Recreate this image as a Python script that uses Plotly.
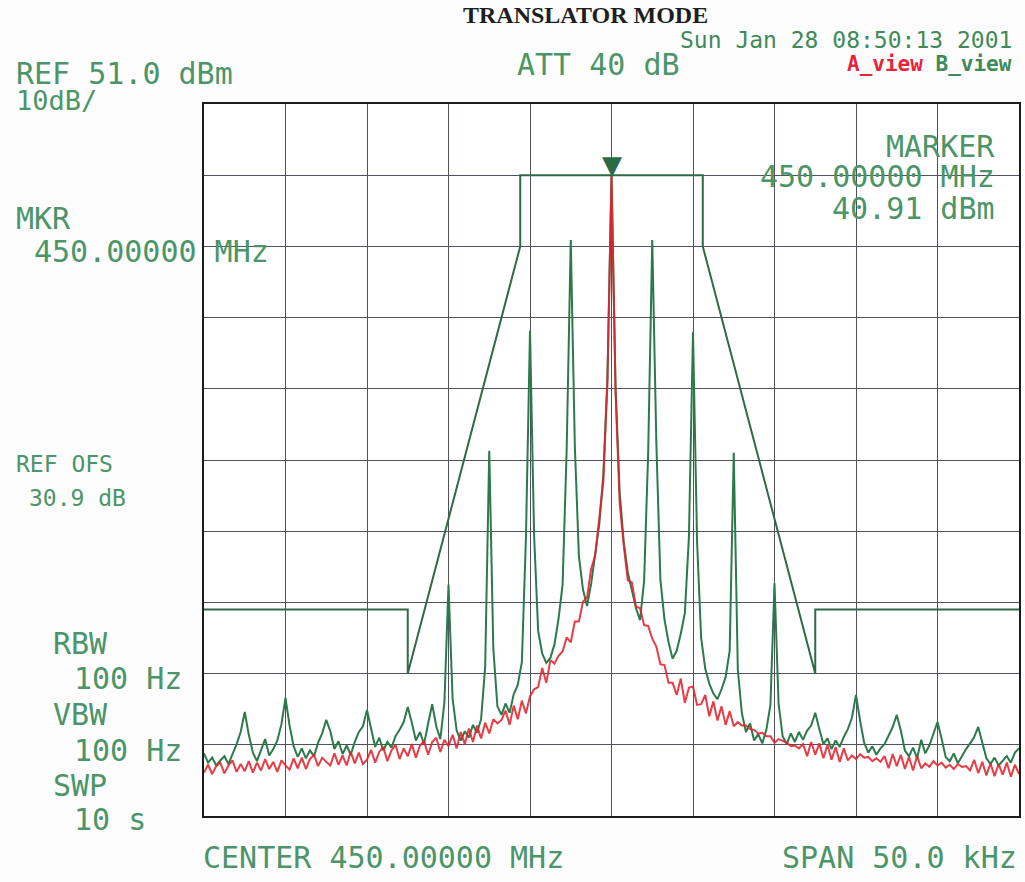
import numpy as np
import plotly.graph_objects as go

# ---------------- data ----------------
# analyzer sweep points: -25 .. +25 kHz offset from 450.00000 MHz, 0.25 kHz step
freq_khz = np.linspace(-25, 25, 201)

# A_view (red trace), dBm
a_view_dbm = [
    -42.9, -41.8, -43.1, -42.0, -41.5, -43.0, -41.9, -41.2, -42.8, -41.7,
    -42.7, -41.3, -42.9, -41.5, -42.6, -41.0, -42.4, -41.4, -42.8, -41.2,
    -41.9, -42.5, -40.9, -42.3, -40.8, -42.4, -41.0, -40.4, -42.0, -40.8,
    -41.4, -41.9, -40.2, -41.8, -40.5, -41.9, -40.0, -41.6, -40.1, -41.7,
    -41.1, -39.7, -41.5, -40.0, -39.3, -41.3, -39.8, -39.0, -41.0, -39.5,
    -40.6, -38.9, -40.8, -39.1, -38.5, -40.4, -38.6, -38.0, -40.0, -38.3,
    -39.2, -37.6, -39.5, -37.2, -38.9, -36.7, -38.6, -36.3, -38.1, -35.9,
    -37.4, -35.4, -36.0, -35.5, -34.2, -36.2, -33.5, -35.4, -32.8, -34.6,
    -32.2, -31.2, -30.9, -28.2, -30.3, -27.1, -27.6, -26.5, -25.9, -23.9,
    -24.6, -21.7, -21.7, -18.9, -18.3, -14.3, -12.4, -7.0, -2.0, 12.0,
    40.9,
    10.5, -5.0, -11.0, -15.9, -16.2, -19.6, -19.8, -22.2, -22.3, -24.1,
    -25.2, -27.7, -27.8, -30.3, -30.3, -32.0, -29.7, -33.1, -31.0, -30.8,
    -33.4, -33.3, -32.0, -35.0, -32.9, -35.6, -33.6, -36.2, -34.3, -36.4,
    -35.8, -36.3, -36.3, -36.8, -36.9, -37.4, -37.3, -37.8, -37.8, -38.7,
    -38.2, -38.5, -38.7, -39.2, -39.1, -39.5, -38.9, -40.6, -38.6, -40.4,
    -38.8, -40.9, -39.0, -41.1, -39.3, -41.4, -39.5, -41.2, -40.5, -41.0,
    -40.3, -40.8, -40.7, -41.3, -40.9, -41.4, -40.6, -42.3, -40.3, -42.0,
    -40.4, -42.4, -40.7, -42.6, -40.6, -42.3, -41.6, -42.1, -41.3, -41.9,
    -41.5, -42.2, -41.8, -42.4, -41.7, -42.1, -42.0, -42.6, -41.1, -43.0,
    -41.4, -43.3, -41.6, -43.4, -41.7, -43.2, -41.5, -43.5, -41.8, -43.1,
]

# B_view (green trace, translator output with intermod products), dBm
b_view_dbm = [
    -40.2, -41.5, -40.8, -41.9, -41.2, -40.6, -41.7, -40.4, -38.9, -37.2,
    -34.4, -37.6, -40.1, -41.3, -39.8, -38.2, -40.5, -39.6, -38.4, -36.1,
    -32.4, -36.3, -39.2, -40.7, -39.5, -40.9, -39.8, -40.6, -38.7, -37.4,
    -35.5, -37.1, -39.6, -38.5, -40.3, -39.1, -40.4, -38.6, -37.2, -36.4,
    -34.1, -36.5, -39.3, -38.0, -39.8, -38.6, -39.4, -37.8, -36.9, -35.8,
    -33.7, -35.9, -38.4, -37.2, -38.9, -36.0, -33.3, -36.4, -38.2, -33.0,
    -16.5, -32.5, -37.0, -38.4, -37.1, -38.0, -36.2, -37.3, -35.4, -28.0,
    2.3, -25.5, -33.6, -34.8, -33.2, -34.5, -31.9, -30.6, -27.4, -10.0,
    19.2, -9.5, -23.0, -26.2, -27.5, -26.8, -24.9, -21.3, -16.5, 2.5,
    31.9, 3.0, -12.5, -17.2, -19.5, -16.4, -12.0, -8.0, -1.0, 12.5,
    40.9,
    11.0, -3.5, -10.5, -14.8, -17.5, -19.8, -21.5, -16.0, 2.0, 31.9,
    3.5, -15.8, -21.4, -24.6, -26.9, -25.8, -23.4, -20.5, -9.8, 19.0,
    -10.5, -24.0, -28.3, -30.4, -31.8, -32.6, -31.2, -29.5, -25.8, 2.0,
    -28.5, -34.6, -37.2, -36.0, -38.4, -37.5, -38.8, -36.9, -33.4, -16.3,
    -33.2, -37.8, -38.9, -37.4, -38.6, -37.2, -38.3, -37.0, -36.3, -34.5,
    -36.8, -38.9, -38.1, -39.6, -38.4, -39.3, -37.9, -36.8, -35.2, -32.0,
    -35.6, -38.7, -40.1, -39.2, -40.4, -39.5, -38.9, -37.6, -36.5, -34.8,
    -37.0, -39.8, -40.6, -39.4, -40.9, -38.3, -40.2, -39.1, -37.4, -35.8,
    -38.1, -40.7, -41.3, -40.2, -41.6, -40.5, -39.6, -38.8, -37.9, -36.5,
    -38.6, -40.9, -41.7, -40.8, -41.9, -41.2, -40.6, -41.5, -40.1, -39.5,
]

# limit mask (kHz, dBm)
mask_freq_khz = [-25, -12.5, -12.5, -5.6, -5.6, 5.6, 5.6, 12.5, 12.5, 25]
mask_level_dbm = [-20, -20, -29, 31, 41, 41, 31, -29, -20, -20]

# marker
marker_freq_khz = 0.0
marker_level_dbm = 40.91

# display settings
ref_level = 51.0
db_per_div = 10
n_div = 10
span_khz = 50.0

assert len(a_view_dbm) == len(freq_khz) == len(b_view_dbm)

# ---------------- figure ----------------
W, H = 1025, 882
L, R, T, B = 204, 4, 104, 66
PW, PH = W - L - R, H - T - B

TRACE_GREEN = "#2c7a4b"
TRACE_RED = "#e3232d"
MASK_GREEN = "#2f6a47"
TEXT_GREEN = "#4b9568"
MONO = "DejaVu Sans Mono"

fig = go.Figure()
fig.add_trace(go.Scatter(x=mask_freq_khz, y=mask_level_dbm, mode="lines",
                         line=dict(color=MASK_GREEN, width=2), hoverinfo="skip",
                         showlegend=False))
fig.add_trace(go.Scatter(x=freq_khz, y=b_view_dbm, mode="lines",
                         line=dict(color=TRACE_GREEN, width=2), name="B_view",
                         showlegend=False))
fig.add_trace(go.Scatter(x=freq_khz, y=a_view_dbm, mode="lines",
                         line=dict(color=TRACE_RED, width=2), opacity=0.88,
                         name="A_view", showlegend=False))


def px(x):
    return (x - L) / PW


def py(y):
    return (H - B - y) / PH


def label(text, x, y, size=30, anchor="left", color=TEXT_GREEN, family=MONO):
    fig.add_annotation(text=text, xref="paper", yref="paper", x=px(x), y=py(y),
                       xanchor=anchor, yanchor="middle", showarrow=False,
                       font=dict(family=family, size=size, color=color))


label("<b>TRANSLATOR MODE</b>", 586, 15, size=24, anchor="center",
      color="#1e1e1e", family="Liberation Serif")
label("Sun Jan 28 08:50:13 2001", 1016, 40, size=23, anchor="right", color="#3f8a58")
label("REF 51.0 dBm", 14, 73)
label("10dB/", 14, 100, size=27)
label("ATT 40 dB", 516, 64)
label('<b><span style="color:#e8243a">A_view</span> '
      '<span style="color:#3f8a58">B_view</span></b>', 1016, 64, size=21, anchor="right")
label("MARKER", 999, 146, anchor="right")
label("450.00000 MHz", 999, 177, anchor="right")
label("40.91 dBm", 999, 208, anchor="right")
label("MKR", 14, 218)
label("450.00000 MHz", 32, 251)
label("REF OFS", 14, 464, size=23)
label("30.9 dB", 27, 498, size=23)
label("RBW", 51, 643)
label("100 Hz", 72, 678)
label("VBW", 51, 714)
label("100 Hz", 72, 750)
label("SWP", 51, 785)
label("10 s", 72, 820)
label("CENTER 450.00000 MHz", 201, 857)
label("SPAN 50.0 kHz", 1021, 857, anchor="right")

# marker triangle, tip on the marker point
fig.add_annotation(x=marker_freq_khz, y=marker_level_dbm, xref="x", yref="y",
                   text="▼", showarrow=False, yanchor="bottom", yshift=-6,
                   font=dict(family="DejaVu Sans", size=26, color="#2a6b45"))

grid_color = "#50505e"
fig.update_xaxes(range=[-span_khz / 2, span_khz / 2], tick0=-span_khz / 2,
                 dtick=span_khz / n_div, showticklabels=False, showgrid=True,
                 gridcolor=grid_color, gridwidth=1, zeroline=False,
                 showline=True, mirror=True, linecolor="#1c1c1c", linewidth=2,
                 ticks="")
fig.update_yaxes(range=[ref_level - n_div * db_per_div, ref_level],
                 tick0=ref_level - n_div * db_per_div, dtick=db_per_div,
                 showticklabels=False, showgrid=True, gridcolor=grid_color,
                 gridwidth=1, zeroline=False, showline=True, mirror=True,
                 linecolor="#1c1c1c", linewidth=2, ticks="")
fig.update_layout(width=W, height=H, margin=dict(l=L, r=R, t=T, b=B, pad=0),
                  paper_bgcolor="#fdfdfd", plot_bgcolor="#ffffff",
                  showlegend=False)

fig.write_html("out.html")
